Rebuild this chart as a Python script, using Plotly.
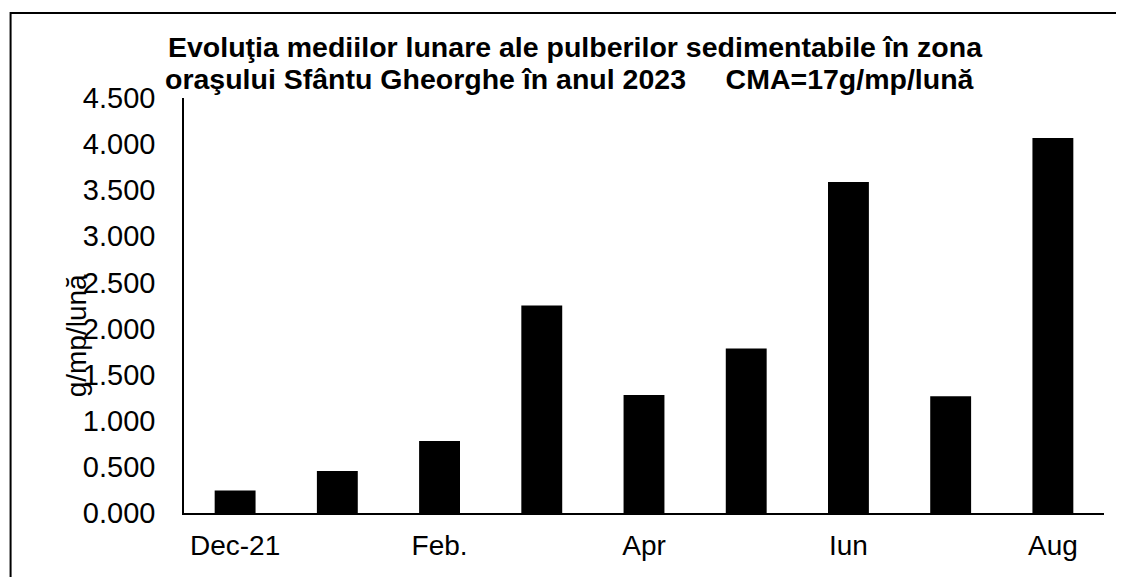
import plotly.graph_objects as go

categories = ["Dec-21", "Ian.", "Feb.", "Mar.", "Apr", "Mai", "Iun", "Iul", "Aug"]
values = [0.245, 0.455, 0.780, 2.250, 1.280, 1.785, 3.590, 1.265, 4.065]
shown_labels = ["Dec-21", "Feb.", "Apr", "Iun", "Aug"]
title_line1 = "Evoluţia mediilor lunare ale pulberilor sedimentabile în zona"
title_line2 = "oraşului Sfântu Gheorghe în anul 2023&nbsp;&nbsp;&nbsp;&nbsp;&nbsp;CMA=17g/mp/lună"
y_title = "g/mp/lună"

FONT = "Liberation Sans, Arial, sans-serif"

fig = go.Figure(go.Bar(
    x=categories, y=values,
    marker=dict(color="black", line=dict(width=0)),
    width=0.4,
))

fig.update_layout(
    width=1124, height=577,
    margin=dict(l=176, r=28, t=90, b=72),
    paper_bgcolor="white", plot_bgcolor="white",
    showlegend=False,
    font=dict(family=FONT, color="black"),
)
fig.update_xaxes(
    type="category",
    tickmode="array", tickvals=shown_labels, ticktext=shown_labels,
    showline=True, linecolor="black", linewidth=1.5,
    showgrid=False, ticks="", zeroline=False,
    tickfont=dict(size=28, family=FONT, color="black"),
    ticklabelstandoff=7,
)
fig.update_yaxes(
    range=[0, 4.5], dtick=0.5, tickformat=".3f",
    showline=True, linecolor="black", linewidth=1.5,
    showgrid=False, ticks="", zeroline=False,
    tickfont=dict(size=29, family=FONT, color="black"),
    ticklabelstandoff=21,
)

fig.add_annotation(text="<b>" + title_line1 + "</b>", xref="paper", yref="paper",
                   x=0.4255, y=1.124, xanchor="center", yanchor="middle",
                   showarrow=False, font=dict(size=28.5, family=FONT, color="black"))
fig.add_annotation(text="<b>" + title_line2 + "</b>", xref="paper", yref="paper",
                   x=0.420, y=1.045, xanchor="center", yanchor="middle",
                   showarrow=False, font=dict(size=28.5, family=FONT, color="black"))
fig.add_annotation(text=y_title, xref="paper", yref="paper",
                   x=-0.117, y=0.4265, xanchor="center", yanchor="middle",
                   textangle=-90, showarrow=False,
                   font=dict(size=28, family=FONT, color="black"))

fig.add_shape(type="rect", xref="paper", yref="paper",
              x0=-0.1885, x1=1.1, y0=-0.25, y1=1.2048,
              line=dict(color="black", width=2), fillcolor="rgba(0,0,0,0)")

fig.write_html("out.html")
